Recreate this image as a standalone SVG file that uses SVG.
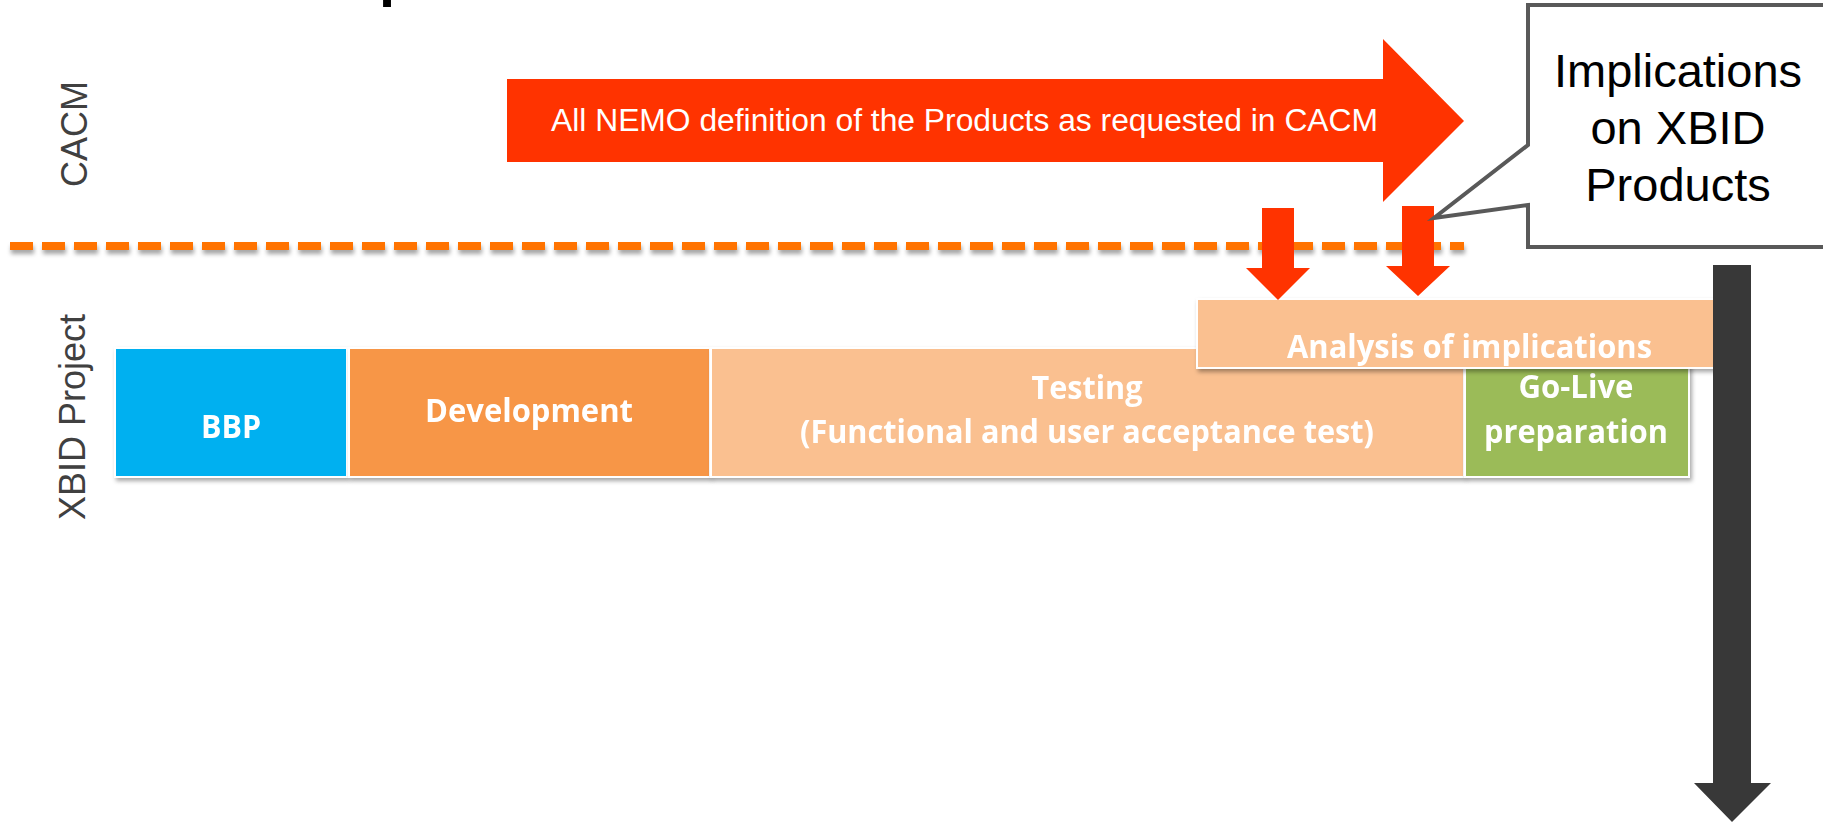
<svg xmlns="http://www.w3.org/2000/svg" width="1823" height="822" viewBox="0 0 1823 822">
<defs>
<style>
.lbl{font-family:"Liberation Sans",Arial,sans-serif;font-size:36px;fill:#404040}
.bx{stroke:#ffffff;stroke-width:2}
.bt{font-family:"Open Sans","Liberation Sans",sans-serif;font-weight:bold;font-size:32px;fill:#ffffff;text-anchor:middle}
.call{font-family:"Liberation Sans",Arial,sans-serif;font-size:47px;fill:#000000;text-anchor:middle}
.red{fill:#FF3300}
</style>
<filter id="sh" x="-5%" y="-10%" width="110%" height="130%">
<feDropShadow dx="2" dy="3" stdDeviation="2" flood-color="#000000" flood-opacity="0.35"/>
</filter>
<filter id="dsh" filterUnits="userSpaceOnUse" x="0" y="230" width="1500" height="40">
<feDropShadow dx="1" dy="4" stdDeviation="2" flood-color="#000000" flood-opacity="0.35"/>
</filter>
</defs>
<rect x="0" y="0" width="1823" height="822" fill="#ffffff"/>
<text x="377" y="-12" font-family="Liberation Sans, Arial, sans-serif" font-size="90" fill="#000000">p</text>
<g id="label-cacm"><text class="lbl" text-anchor="middle" transform="translate(87,134) rotate(-90)">CACM</text></g>
<g id="label-xbid"><text class="lbl" text-anchor="middle" transform="translate(85,417) rotate(-90)">XBID Project</text></g>
<g id="separator"><line x1="10" y1="246" x2="1464" y2="246" stroke="#FF7300" stroke-width="8" stroke-dasharray="23 9" filter="url(#dsh)"/></g>
<g id="bbp" filter="url(#sh)"><rect class="bx" x="115" y="348" width="232" height="129" fill="#00B0F0"/>
<text class="bt" x="231" y="438" textLength="60" lengthAdjust="spacingAndGlyphs">BBP</text></g>
<g id="development" filter="url(#sh)"><rect class="bx" x="349" y="348" width="361" height="129" fill="#F79646"/>
<text class="bt" x="529" y="422" textLength="208" lengthAdjust="spacingAndGlyphs">Development</text></g>
<g id="testing" filter="url(#sh)"><rect class="bx" x="711" y="348" width="753" height="129" fill="#FAC090"/>
<text class="bt" x="1087" y="399" textLength="111" lengthAdjust="spacingAndGlyphs">Testing</text>
<text class="bt" x="1087" y="443" textLength="574" lengthAdjust="spacingAndGlyphs">(Functional and user acceptance test)</text></g>
<g id="golive" filter="url(#sh)"><rect class="bx" x="1465" y="348" width="224" height="129" fill="#9BBB59"/>
<text class="bt" x="1576" y="398" textLength="115" lengthAdjust="spacingAndGlyphs">Go-Live</text>
<text class="bt" x="1576" y="443" textLength="184" lengthAdjust="spacingAndGlyphs">preparation</text></g>
<g id="analysis" filter="url(#sh)"><rect class="bx" x="1197" y="299" width="545" height="69" fill="#FAC090"/>
<text class="bt" x="1287" y="358" style="text-anchor:start" textLength="365" lengthAdjust="spacingAndGlyphs">Analysis of implications</text></g>
<g id="connectors">
<polygon class="red" points="507,79 1383,79 1383,39 1464,121 1383,202 1383,162 507,162"/>
<text x="551" y="131" font-family="Liberation Sans, Arial, sans-serif" font-size="31" fill="#ffffff" textLength="827" lengthAdjust="spacingAndGlyphs">All NEMO definition of the Products as requested in CACM</text>
<polygon class="red" points="1262,208 1294,208 1294,268 1310,268 1278,300 1246,268 1262,268"/>
<polygon class="red" points="1402,206 1434,206 1434,266 1450,266 1418,296 1386,266 1402,266"/>
<polygon fill="#383838" points="1713,265 1751,265 1751,783 1771,783 1732,822 1694,783 1713,783"/>
</g>
<g id="callout">
<path d="M1528,5 H1830 V247 H1528 V205 L1434,218 L1528,145 Z" fill="#ffffff" stroke="#595959" stroke-width="4" stroke-linejoin="miter"/>
<text class="call" x="1678" y="87">Implications</text>
<text class="call" x="1678" y="144">on XBID</text>
<text class="call" x="1678" y="201">Products</text>
</g>
</svg>
